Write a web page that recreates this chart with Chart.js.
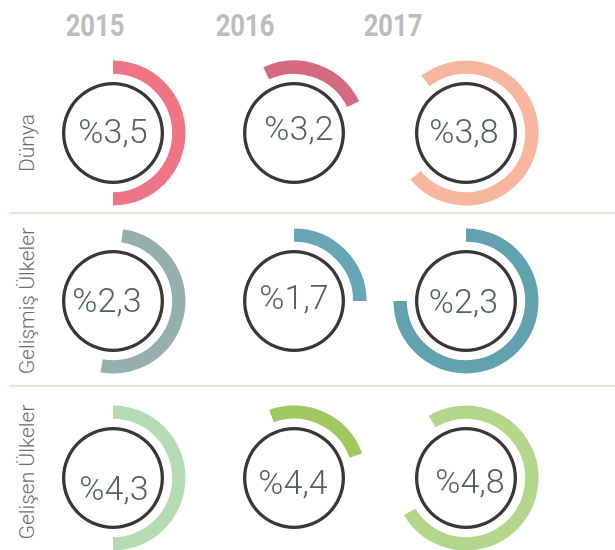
<!DOCTYPE html>
<html>
<head>
<meta charset="utf-8">
<script src="https://cdn.jsdelivr.net/npm/chart.js@4/dist/chart.umd.min.js"></script>
<style>
  html, body { margin: 0; padding: 0; background: #ffffff; }
  #stage { position: relative; width: 615px; height: 550px; overflow: hidden; background: #fff; }
  .cell { position: absolute; }
  .year { position: absolute; font-family: Roboto, "Liberation Sans", sans-serif; font-weight: 700; font-size: 32px; color: #bcbcbc; line-height: 1; white-space: nowrap; transform: translate(-50%, -50%) scaleX(0.8); }
  .rowlab { position: absolute; font-family: Roboto, "Liberation Sans", sans-serif; font-weight: 300; font-size: 21px; color: #6e6e6e; line-height: 1; white-space: nowrap; transform: translate(-50%, -50%) rotate(-90deg); }
  .val { position: absolute; font-family: Roboto, "Liberation Sans", sans-serif; font-weight: 300; font-size: 34px; color: #56605f; line-height: 1; white-space: nowrap; transform: translate(-50%, -50%); }
  .sep { position: absolute; left: 9px; right: 0; height: 2px; background: #f6ddd3; }
</style>
</head>
<body>
<div id="stage"></div>
<script>
// ---- data ----
const years = ["2015", "2016", "2017"];
const regions = ["Dünya", "Gelişmiş Ülkeler", "Gelişen Ülkeler"];
const dunyaValues = [3.5, 3.2, 3.8];
const gelismisValues = [2.3, 1.7, 2.3];
const gelisenValues = [4.3, 4.4, 4.8];
const dunyaArcStart = [0, -25, -38];
const gelismisArcStart = [8, 0, 0];
const gelisenArcStart = [0, -20, -31];
const dunyaArcSweep = [180, 89, 268];
const gelismisArcSweep = [182, 90, 270];
const gelisenArcSweep = [180, 90, 270];

// ---- styles / layout ----
const rowValues = [dunyaValues, gelismisValues, gelisenValues];
const rowStarts = [dunyaArcStart, gelismisArcStart, gelisenArcStart];
const rowSweeps = [dunyaArcSweep, gelismisArcSweep, gelisenArcSweep];
const arcColors = [
  ["#ef7486", "#d4697f", "#f7b69d"],
  ["#96aeac", "#67a6b6", "#62a1ae"],
  ["#b4dbb4", "#9fc95f", "#b3d68b"]
];
const ringColor = "#3b3735";
const colX = [113, 294, 466];
const rowY = [133, 301, 477.5];
const yearX = [95, 245, 393];
const yearY = 25;
const labelX = 27;
const labelY = [143, 301, 472];
const sepY = [213, 386];
const textDx = [[0, 5, -2], [-6, 0, -2.5], [1, -1, 4]];
const textDy = [[-2, -5, -2.5], [-1.5, -4, 0], [10, 4, 3.5]];

const R_OUT = 72.5, R_ARC_IN = 59.2, R_CIRC_OUT = 51, R_CIRC_IN = 47.7;
const SIZE = 160;

const stage = document.getElementById('stage');

sepY.forEach(y => {
  const d = document.createElement('div');
  d.className = 'sep';
  d.style.top = (y - 1) + 'px';
  stage.appendChild(d);
});

years.forEach((y, i) => {
  const d = document.createElement('div');
  d.className = 'year';
  d.textContent = y;
  d.style.left = yearX[i] + 'px';
  d.style.top = yearY + 'px';
  stage.appendChild(d);
});

regions.forEach((r, i) => {
  const d = document.createElement('div');
  d.className = 'rowlab';
  d.textContent = r;
  d.style.left = labelX + 'px';
  d.style.top = labelY[i] + 'px';
  stage.appendChild(d);
});

const fmt = v => '%' + v.toFixed(1).replace('.', ',');

for (let r = 0; r < 3; r++) {
  for (let c = 0; c < 3; c++) {
    const cx = colX[c], cy = rowY[r];
    const cv = document.createElement('canvas');
    cv.className = 'cell';
    cv.width = SIZE; cv.height = SIZE;
    cv.style.width = SIZE + 'px'; cv.style.height = SIZE + 'px';
    cv.style.left = (cx - SIZE / 2) + 'px';
    cv.style.top = (cy - SIZE / 2) + 'px';
    stage.appendChild(cv);

    new Chart(cv.getContext('2d'), {
      type: 'doughnut',
      data: {
        labels: [regions[r] + ' ' + years[c]],
        datasets: [
          { data: [rowValues[r][c]], backgroundColor: [arcColors[r][c]], borderWidth: 0,
            rotation: rowStarts[r][c], circumference: rowSweeps[r][c], weight: R_OUT - R_ARC_IN },
          { data: [1], backgroundColor: ['rgba(0,0,0,0)'], borderWidth: 0, weight: R_ARC_IN - R_CIRC_OUT },
          { data: [1], backgroundColor: [ringColor], borderWidth: 0, weight: R_CIRC_OUT - R_CIRC_IN }
        ]
      },
      options: {
        responsive: false,
        animation: false,
        devicePixelRatio: 1,
        events: [],
        radius: R_OUT,
        cutout: (R_CIRC_IN / R_OUT * 100) + '%',
        layout: { padding: 0 },
        plugins: { legend: { display: false }, tooltip: { enabled: false } }
      }
    });

    const t = document.createElement('div');
    t.className = 'val';
    t.textContent = fmt(rowValues[r][c]);
    t.style.left = (cx + textDx[r][c]) + 'px';
    t.style.top = (cy + textDy[r][c]) + 'px';
    stage.appendChild(t);
  }
}
</script>
</body>
</html>
